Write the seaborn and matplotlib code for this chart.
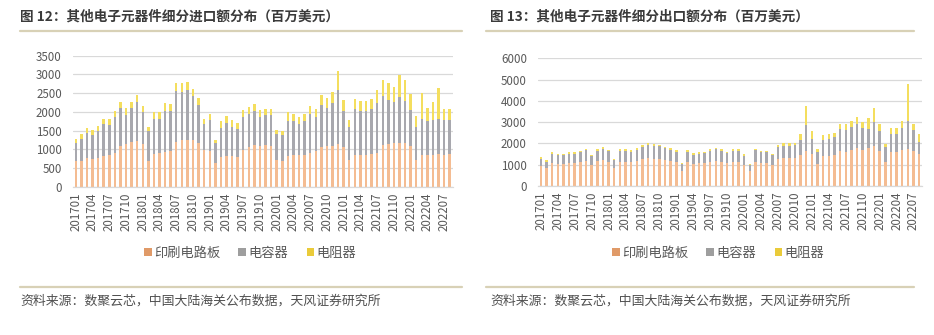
import matplotlib
matplotlib.use("Agg")
import matplotlib.pyplot as plt
import seaborn as sns
import pandas as pd
from matplotlib.patches import Patch
from matplotlib.lines import Line2D

# Monthly categories 201701 .. 202208
months = [f"{y}{m:02d}" for y in range(2017, 2023) for m in range(1, 13)][:68]

# Imports (USD mn)
imp_pcb = [700, 690, 760, 730, 760, 820, 840, 900, 1100, 1150, 1200, 1230,
           1150, 700, 880, 900, 920, 950, 1200, 1250, 1260, 1240, 1180, 980,
           950, 620, 800, 820, 810, 800, 980, 1050, 1120, 1100, 1120, 1100,
           720, 700, 830, 840, 850, 860, 900, 950, 1050, 1080, 1100, 1150,
           1050, 720, 850, 860, 860, 870, 900, 1120, 1150, 1160, 1180, 1170,
           1100, 720, 850, 850, 860, 870, 860, 870]
imp_cap = [455, 595, 675, 650, 730, 845, 810, 960, 990, 770, 890, 1020,
           840, 790, 930, 920, 1105, 1060, 1345, 1290, 1320, 1180, 1005, 700,
           840, 540, 765, 880, 795, 750, 880, 900, 910, 770, 795, 815,
           680, 690, 930, 910, 815, 885, 1030, 925, 1140, 1020, 1135, 1425,
           985, 880, 1225, 1155, 1155, 1195, 1340, 1305, 1175, 1090, 1215, 1125,
           940, 865, 965, 915, 930, 935, 915, 905]
imp_res = [110, 120, 140, 130, 140, 150, 150, 160, 180, 170, 180, 200,
           170, 110, 190, 180, 200, 190, 230, 220, 230, 200, 180, 140,
           160, 100, 180, 190, 170, 160, 180, 180, 190, 170, 170, 160,
           120, 110, 230, 200, 190, 200, 220, 210, 270, 260, 300, 520,
           280, 180, 280, 270, 270, 290, 340, 420, 450, 420, 600, 550,
           450, 300, 700, 350, 480, 820, 300, 300]

# Exports (USD mn)
exp_pcb = [950, 850, 1080, 1020, 1020, 1080, 1080, 1120, 1180, 1000, 1170, 1230,
           1150, 850, 1150, 1150, 1130, 1180, 1280, 1300, 1290, 1270, 1230, 1180,
           1120, 720, 1120, 1020, 1060, 1060, 1130, 1180, 1130, 1060, 1130, 1130,
           980, 700, 1150, 1080, 1080, 1000, 1250, 1300, 1300, 1320, 1450, 1650,
           1500, 1050, 1400, 1420, 1450, 1650, 1620, 1700, 1800, 1700, 1800, 1900,
           1650, 1150, 1600, 1600, 1700, 1750, 1650, 1500]
exp_cap = [340, 300, 440, 420, 420, 440, 440, 460, 490, 420, 490, 520,
           490, 360, 500, 500, 480, 510, 570, 610, 590, 590, 540, 520,
           500, 300, 500, 450, 460, 470, 520, 540, 520, 480, 520, 520,
           450, 280, 520, 500, 500, 450, 560, 590, 600, 600, 730, 1210,
           690, 570, 780, 810, 830, 1030, 1030, 1080, 1110, 1030, 860, 1100,
           950, 660, 840, 840, 1010, 1310, 1000, 560]
exp_res = [60, 50, 70, 60, 60, 70, 70, 70, 80, 60, 70, 80,
           70, 50, 70, 70, 70, 80, 90, 90, 90, 80, 80, 70,
           70, 40, 70, 60, 70, 70, 70, 80, 70, 70, 70, 70,
           60, 40, 80, 70, 70, 70, 100, 110, 110, 120, 250, 900,
           400, 100, 200, 200, 200, 250, 250, 280, 350, 300, 550, 650,
           300, 150, 300, 300, 350, 1750, 250, 400]

series_names = ["印刷电路板", "电容器", "电阻器"]
colors = ["#F4BC92", "#A8A8AE", "#F4DE5E"]
legend_colors = ["#E09A68", "#9E9E9E", "#EACB3A"]

sns.set_theme(style="white")
plt.rcParams["font.family"] = ["Noto Sans CJK SC", "DejaVu Sans"]

W, H = 934, 335
fig = plt.figure(figsize=(W / 100, H / 100), dpi=100)
fig.patch.set_facecolor("white")


def px_axes(left, right, top, bottom):
    return fig.add_axes([left / W, 1 - bottom / H, (right - left) / W, (bottom - top) / H])


def draw_stack(ax, pcb, cap, res, ymax, ystep):
    df = pd.DataFrame({"month": months, "pcb": pcb, "cap": cap, "res": res})
    df["pcb_cap"] = df["pcb"] + df["cap"]
    df["total"] = df["pcb_cap"] + df["res"]
    for col, c in zip(["total", "pcb_cap", "pcb"], colors[::-1]):
        sns.barplot(data=df, x="month", y=col, ax=ax, color=c, width=0.44,
                    saturation=1, errorbar=None, linewidth=0)
    ax.set_xlim(-0.5, len(months) - 0.5)
    ax.set_ylim(0, ymax)
    ax.set_yticks(range(0, ymax + 1, ystep))
    ax.yaxis.grid(True, color="#D9D9D9", linewidth=0.9)
    ax.xaxis.grid(False)
    ax.set_axisbelow(True)
    for s in ["top", "right", "left"]:
        ax.spines[s].set_visible(False)
    ax.spines["bottom"].set_color("#D9D9D9")
    ax.spines["bottom"].set_linewidth(0.9)
    ticks = list(range(0, len(months), 3))
    ax.set_xticks(ticks)
    ax.set_xticklabels([months[i] for i in ticks], rotation=90)
    ax.tick_params(axis="both", length=0, labelsize=8.3, colors="#595959")
    ax.tick_params(axis="y", pad=8)
    ax.tick_params(axis="x", pad=4)
    ax.set_xlabel("")
    ax.set_ylabel("")


ax1 = px_axes(73, 452.5, 55.7, 186.7)
draw_stack(ax1, imp_pcb, imp_cap, imp_res, 3500, 500)
ax2 = px_axes(538, 922, 58.3, 186)
draw_stack(ax2, exp_pcb, exp_cap, exp_res, 6000, 1000)

handles = [Patch(facecolor=c, edgecolor="none") for c in legend_colors]
for cx in (250 / W, 718 / W):
    fig.legend(handles, series_names, loc="center", bbox_to_anchor=(cx, 1 - 253 / H),
               ncol=3, frameon=False, fontsize=9.5, handlelength=0.6, handleheight=0.6,
               handletextpad=0.15, columnspacing=1.4, labelcolor="#595959")

title_kw = dict(fontsize=9.8, fontweight="bold", color="#3A3A3A", va="center", ha="left")
fig.text(20 / W, 1 - 17 / H, "图 12：其他电子元器件细分进口额分布（百万美元）", **title_kw)
fig.text(490 / W, 1 - 17 / H, "图 13：其他电子元器件细分出口额分布（百万美元）", **title_kw)

src_kw = dict(fontsize=9.3, color="#505050", va="center", ha="left")
src = "资料来源：数聚云芯，中国大陆海关公布数据，天风证券研究所"
fig.text(20 / W, 1 - 301 / H, src, **src_kw)
fig.text(490 / W, 1 - 301 / H, src, **src_kw)

line_color = "#D8D1B6"
for x0, x1 in ((20, 462), (486, 914)):
    for yy in (31, 287):
        fig.add_artist(Line2D([x0 / W, x1 / W], [1 - yy / H, 1 - yy / H],
                              color=line_color, linewidth=1.6))

fig.savefig("out.png", dpi=100, facecolor="white")
